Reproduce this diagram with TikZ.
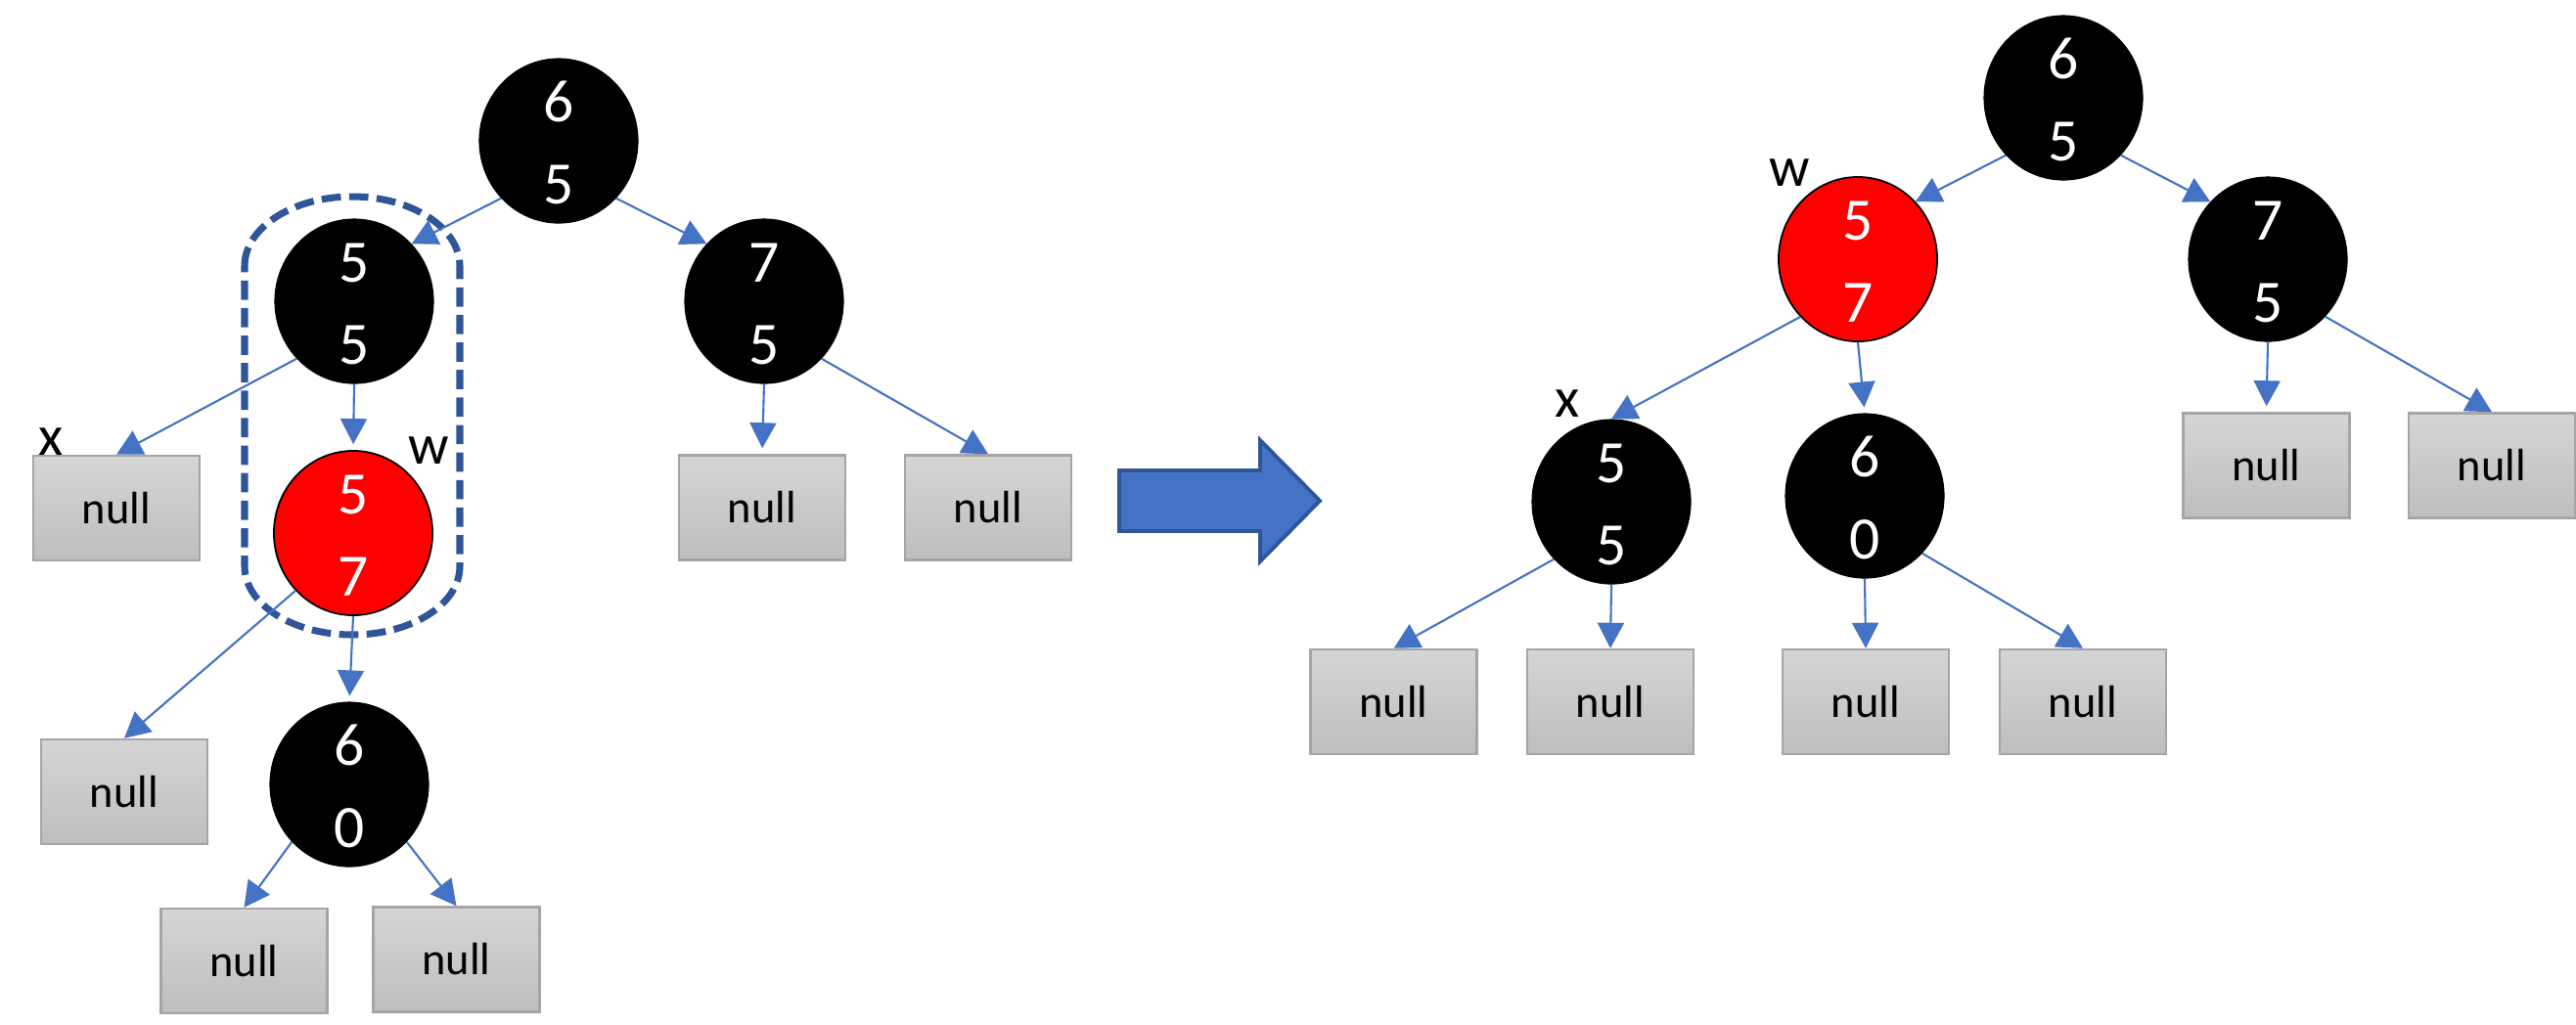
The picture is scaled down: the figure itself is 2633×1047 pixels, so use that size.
\documentclass[tikz,border=0pt]{standalone}
\usepackage{fontspec}
\setmainfont{Carlito}
\usetikzlibrary{arrows.meta,shapes.geometric}

\definecolor{linkblue}{HTML}{4472C4}
\definecolor{darkblue}{HTML}{2F5597}
\definecolor{nulltop}{HTML}{D5D5D5}
\definecolor{nullbot}{HTML}{BEBEBE}
\definecolor{nullrim}{HTML}{A5A5A5}
\definecolor{rbred}{HTML}{FF0000}

% tree node: name, x, y, style, upper digit, lower digit
\newcommand\rbtnode[6]{%
  \node[#4] (#1) at (#2,#3) {};
  \node[digit] (#1-a) at (#2,#3-19.5) {#5};
  \node[digit] (#1-b) at (#2,#3+64.5) {#6};
}

\tikzset{
  blacknode/.style={ellipse, fill=black, draw=black, line width=0.3pt,
    minimum width=1.62cm, minimum height=1.68cm, inner sep=0pt},
  rednode/.style={ellipse, fill=rbred, draw=black, line width=0.5pt,
    minimum width=1.62cm, minimum height=1.68cm, inner sep=0pt},
  digit/.style={anchor=base, text=white, inner sep=0pt,
    font=\fontsize{17.5}{17.5}\selectfont},
  nullbox/.style={rectangle, draw=nullrim, line width=0.7pt,
    top color=nulltop, bottom color=nullbot,
    minimum width=1.70cm, minimum height=1.07cm, inner sep=0pt,
    font=\fontsize{13.2}{13.2}\selectfont},
  tag/.style={inner sep=0pt, font=\fontsize{16.5}{16.5}\selectfont},
  link/.style={draw=linkblue, line width=0.6pt,
    -{Triangle[length=7.4pt, width=7.7pt]}},
  gap/.style={shorten >=1.7pt},
}

\begin{document}
\begin{tikzpicture}[x=0.01cm, y=-0.01cm]
\useasboundingbox (0,0) rectangle (2633,1047);

% ---------- tree before the rotation ----------
\rbtnode{L65}{571}{144}{blacknode}{6}{5}
\rbtnode{L55}{362}{308}{blacknode}{5}{5}
\rbtnode{L75}{781}{308}{blacknode}{7}{5}
\rbtnode{L57}{361}{545}{rednode}{5}{7}
\rbtnode{L60}{357}{802}{blacknode}{6}{0}

\node[nullbox] (N1) at (119,519.5) {null};
\node[nullbox] (N2) at (779,519) {null};
\node[nullbox] (N3) at (1010,519) {null};
\node[nullbox] (N4) at (127,809.5) {null};
\node[nullbox] (N5) at (249.5,982.5) {null};
\node[nullbox] (N6) at (466.5,981) {null};

\node[tag] (xL) at (52,452) {x};
\node[tag] (wL) at (438,461) {w};

% sibling pair marked by a dashed outline
\draw[darkblue, line width=2pt, dash pattern=on 5.6pt off 2.4pt]
  (250,272) .. controls (250,232.8) and (299.2,201) .. (360,201)
  .. controls (420.8,201) and (470,232.8) .. (470,272)
  -- (470,579)
  .. controls (470,617.7) and (420.8,649) .. (360,649)
  .. controls (299.2,649) and (250,617.7) .. (250,579)
  -- cycle;

\draw[link] (L65.225) -- (L55.45);
\draw[link] (L65.315) -- (L75.135);
\draw[link] (L55.225) -- (N1.north);
\draw[link, gap] (L55.south) -- (L57.north);
\draw[link, gap] (L75.south) -- (N2.north);
\draw[link] (L75.315) -- (N3.north);
\draw[link] (L57.225) -- (N4.north);
\draw[link, gap] (L57.south) -- (L60.north);
\draw[link] (L60.225) -- (N5.north);
\draw[link] (L60.315) -- (N6.north);

% ---------- block arrow ----------
\draw[darkblue, fill=linkblue, line width=1.1pt, line join=miter]
  (1144,481) -- (1288,481) -- (1288,450) -- (1349,512) -- (1288,574)
  -- (1288,543) -- (1144,543) -- cycle;

% ---------- tree after the rotation ----------
\rbtnode{R65}{2109}{100}{blacknode}{6}{5}
\rbtnode{R57}{1899}{265}{rednode}{5}{7}
\rbtnode{R75}{2318}{265}{blacknode}{7}{5}
\rbtnode{R55}{1647}{513}{blacknode}{5}{5}
\rbtnode{R60}{1906}{507}{blacknode}{6}{0}

\node[nullbox] (M1) at (2316.5,476) {null};
\node[nullbox] (M2) at (2547,476) {null};
\node[nullbox] (M3) at (1424.6,717.5) {null};
\node[nullbox] (M4) at (1646,717.5) {null};
\node[nullbox] (M5) at (1907,717.5) {null};
\node[nullbox] (M6) at (2129,717.5) {null};

\node[tag] (wR) at (1829,177) {w};
\node[tag] (xR) at (1602,413) {x};

\draw[link] (R65.225) -- (R57.45);
\draw[link] (R65.315) -- (R75.135);
\draw[link] (R57.225) -- (R55.north);
\draw[link, gap] (R57.south) -- (R60.north);
\draw[link, gap] (R75.south) -- (M1.north);
\draw[link] (R75.315) -- (M2.north);
\draw[link] (R55.225) -- (M3.north);
\draw[link] (R55.south) -- (M4.north);
\draw[link] (R60.south) -- (M5.north);
\draw[link] (R60.315) -- (M6.north);
\end{tikzpicture}
\end{document}
